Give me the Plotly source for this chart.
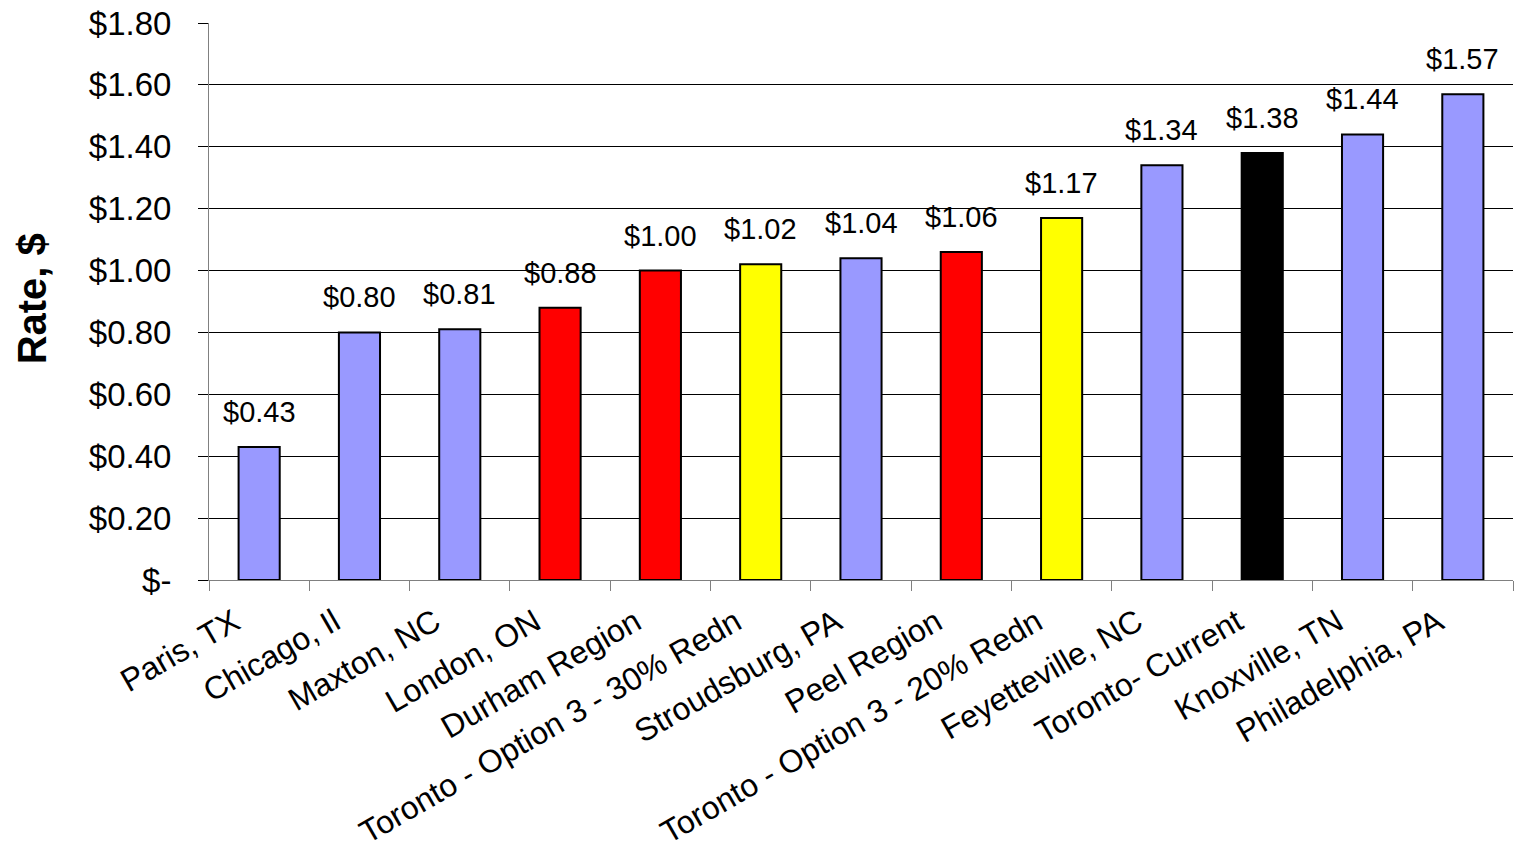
import plotly.graph_objects as go

categories = ["Paris, TX", "Chicago, Il", "Maxton, NC", "London, ON", "Durham Region",
              "Toronto - Option 3 - 30% Redn", "Stroudsburg, PA", "Peel Region",
              "Toronto - Option 3 - 20% Redn", "Feyetteville, NC", "Toronto- Current",
              "Knoxville, TN", "Philadelphia, PA"]
rates = [0.43, 0.80, 0.81, 0.88, 1.00, 1.02, 1.04, 1.06, 1.17, 1.34, 1.38, 1.44, 1.57]
bar_colors = ["#9999FF", "#9999FF", "#9999FF", "#FF0000", "#FF0000", "#FFFF00", "#9999FF",
              "#FF0000", "#FFFF00", "#9999FF", "#000000", "#9999FF", "#9999FF"]
y_ticks = [0, 0.2, 0.4, 0.6, 0.8, 1.0, 1.2, 1.4, 1.6, 1.8]
grid_vals = [0.2, 0.4, 0.6, 0.8, 1.0, 1.2, 1.4, 1.6]

FONT = "Liberation Sans, Arial, sans-serif"

def money(v):
    return "$-" if v == 0 else f"${v:.2f}"

fig = go.Figure()
fig.add_trace(go.Bar(
    x=categories, y=rates,
    marker=dict(color=bar_colors, line=dict(color="#000000", width=2)),
    hoverinfo="x+y", showlegend=False,
))
fig.add_trace(go.Scatter(x=categories, y=rates, mode="none", yaxis="y2",
                         hoverinfo="skip", showlegend=False))

for c, v in zip(categories, rates):
    fig.add_annotation(x=c, y=v, text=money(v), showarrow=False,
                       yanchor="bottom", yshift=17,
                       font=dict(family=FONT, size=29, color="#000000"))

fig.add_annotation(xref="paper", yref="paper", x=-0.136, y=0.505, text="<b>Rate, $</b>",
                   textangle=-90, showarrow=False, xanchor="center", yanchor="middle",
                   font=dict(family=FONT, size=40, color="#000000"))

fig.update_layout(
    width=1514, height=863,
    margin=dict(l=209, r=1, t=23, b=283),
    paper_bgcolor="white", plot_bgcolor="white",
    bargap=0.59,
    font=dict(family=FONT, color="#000000"),
    xaxis=dict(type="category", tickangle=-30, tickson="boundaries",
               ticks="outside", ticklen=10, tickcolor="#808080", tickwidth=1,
               ticklabelshift=-25, ticklabelstandoff=10,
               showline=True, linecolor="#808080", linewidth=1,
               showgrid=False, zeroline=False,
               tickfont=dict(family=FONT, size=32, color="#000000")),
    yaxis=dict(range=[0, 1.8], tickvals=grid_vals, showticklabels=False, ticks="",
               showgrid=True, gridcolor="#000000", gridwidth=1, zeroline=False,
               showline=False),
    yaxis2=dict(range=[0, 1.8], overlaying="y", side="left", anchor="x",
                tickvals=y_ticks, ticktext=[money(v) for v in y_ticks],
                ticks="outside", ticklen=10, tickcolor="#000000", tickwidth=1,
                ticklabelstandoff=20,
                showline=True, linecolor="#808080", linewidth=1,
                showgrid=False, zeroline=False,
                tickfont=dict(family=FONT, size=33, color="#000000")),
)

fig.write_html("out.html")
